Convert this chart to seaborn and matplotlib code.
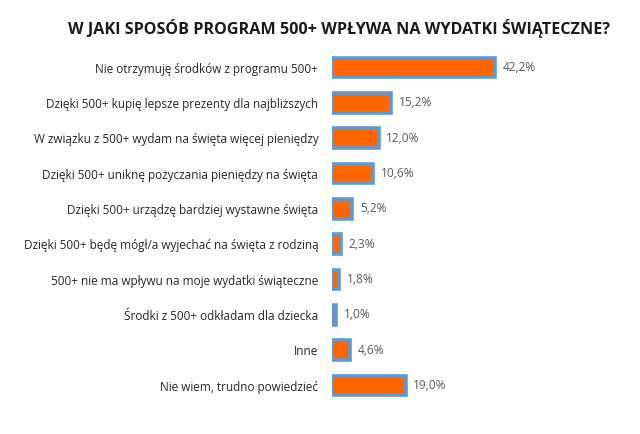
import pandas as pd
import matplotlib
matplotlib.use('Agg')
import matplotlib.pyplot as plt
import seaborn as sns

# Data
answers = [
    'Nie otrzymuję środków z programu 500+',
    'Dzięki 500+ kupię lepsze prezenty dla najbliższych',
    'W związku z 500+ wydam na święta więcej pieniędzy',
    'Dzięki 500+ uniknę pożyczania pieniędzy na święta',
    'Dzięki 500+ urządzę bardziej wystawne święta',
    'Dzięki 500+ będę mógł/a wyjechać na święta z rodziną',
    '500+ nie ma wpływu na moje wydatki świąteczne',
    'Środki z 500+ odkładam dla dziecka',
    'Inne',
    'Nie wiem, trudno powiedzieć',
]
shares = [42.2, 15.2, 12.0, 10.6, 5.2, 2.3, 1.8, 1.0, 4.6, 19.0]
title = 'W JAKI SPOSÓB PROGRAM 500+ WPŁYWA NA WYDATKI ŚWIĄTECZNE?'

df = pd.DataFrame({'answer': answers, 'share': shares})

sns.set_style('white')
plt.rcParams['font.family'] = ['Open Sans', 'DejaVu Sans']

fig = plt.figure(figsize=(6.4, 4.34), dpi=100)
ax = fig.add_axes([0.519, 0.071, 0.37, 0.814])

sns.barplot(data=df, x='share', y='answer', orient='h', ax=ax,
            color='#ff6600', width=0.56, edgecolor='#5b9bd5', linewidth=2.6,
            saturation=1)

ax.set_xlim(0, 61.3)
ax.set_ylim(9.5, -0.5)
ax.set_xlabel('')
ax.set_ylabel('')
ax.set_xticks([])
for s in ax.spines.values():
    s.set_visible(False)
ax.tick_params(axis='y', length=0, pad=10, labelsize=8.5, labelcolor='#262626')

for i, v in enumerate(shares):
    ax.text(v + 2.0, i, f'{v:.1f}'.replace('.', ',') + '%', va='center',
            ha='left', fontsize=8.6, color='#595959')

fig.text(0.53, 0.935, title, ha='center', va='center', fontsize=11.6,
         fontweight='bold', color='#1a1a1a')

fig.savefig('out.png', dpi=100)
